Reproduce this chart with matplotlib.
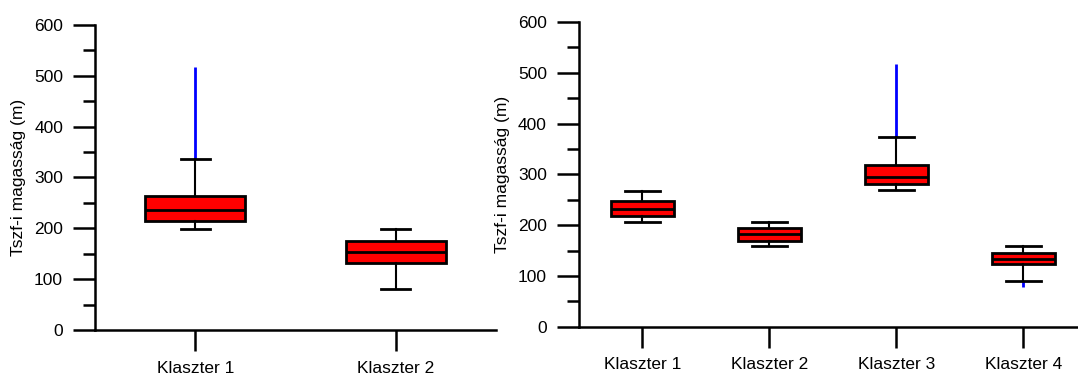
import numpy as np
import matplotlib.pyplot as plt
from matplotlib.ticker import MultipleLocator

plt.rcParams['font.family'] = ['Liberation Sans', 'DejaVu Sans']

# left panel (2 clusters)
left_labels = ["Klaszter 1", "Klaszter 2"]
left_whislo = [198, 80]
left_q1 = [214, 131]
left_med = [235, 153]
left_q3 = [263, 175]
left_whishi = [337, 198]
left_out_lo = [np.nan, np.nan]
left_out_hi = [518, np.nan]

# right panel (4 clusters)
right_labels = ["Klaszter 1", "Klaszter 2", "Klaszter 3", "Klaszter 4"]
right_whislo = [207, 158, 269, 90]
right_q1 = [218, 169, 280, 123]
right_med = [232, 182, 295, 133]
right_q3 = [247, 195, 318, 146]
right_whishi = [268, 207, 374, 158]
right_out_lo = [np.nan, np.nan, np.nan, 78]
right_out_hi = [np.nan, np.nan, 517, np.nan]

ylabel = "Tszf-i magasság (m)"


def draw_panel(ax, labels, whislo, q1, med, q3, whishi, out_lo, out_hi, capw):
    stats = []
    for i in range(len(labels)):
        stats.append({"label": labels[i], "whislo": whislo[i], "q1": q1[i],
                      "med": med[i], "q3": q3[i], "whishi": whishi[i], "fliers": []})
    pos = np.arange(1, len(labels) + 1)
    ax.bxp(stats, positions=pos, widths=0.5, patch_artist=True, showfliers=False,
           capwidths=capw,
           boxprops=dict(facecolor="#ff0000", edgecolor="black", linewidth=2),
           medianprops=dict(color="black", linewidth=2),
           whiskerprops=dict(color="black", linewidth=1.5),
           capprops=dict(color="black", linewidth=2))
    for i, p in enumerate(pos):
        if not np.isnan(out_hi[i]):
            ax.vlines(p, whishi[i], out_hi[i], color="#0000ff", linewidth=2, zorder=1)
        if not np.isnan(out_lo[i]):
            ax.vlines(p, out_lo[i], whislo[i], color="#0000ff", linewidth=2, zorder=1)

    ax.set_xlim(0.5, len(labels) + 0.5 if len(labels) == 2 else len(labels) + 0.43)
    ax.set_ylim(0, 600)
    ax.yaxis.set_major_locator(MultipleLocator(100))
    ax.yaxis.set_minor_locator(MultipleLocator(50))
    ax.spines["top"].set_visible(False)
    ax.spines["right"].set_visible(False)
    ax.spines["left"].set_linewidth(1.8)
    ax.spines["bottom"].set_linewidth(1.8)
    ax.tick_params(axis="y", which="major", direction="out", length=16, width=1.8,
                   pad=7, labelsize=12.5)
    ax.tick_params(axis="y", which="minor", direction="out", length=8.5, width=1.8)
    ax.tick_params(axis="x", direction="out", length=15, width=1.8, pad=7,
                   labelsize=12.5)
    ax.set_ylabel(ylabel, fontsize=12.5, labelpad=6)


fig = plt.figure(figsize=(10.78, 3.79), dpi=100)
ax1 = fig.add_axes([0.0881, 0.1293, 0.372, 0.805])
ax2 = fig.add_axes([0.537, 0.138, 0.463, 0.804])

draw_panel(ax1, left_labels, left_whislo, left_q1, left_med, left_q3, left_whishi,
           left_out_lo, left_out_hi, 0.145)
draw_panel(ax2, right_labels, right_whislo, right_q1, right_med, right_q3, right_whishi,
           right_out_lo, right_out_hi, 0.28)

fig.savefig("out.png", dpi=100)
